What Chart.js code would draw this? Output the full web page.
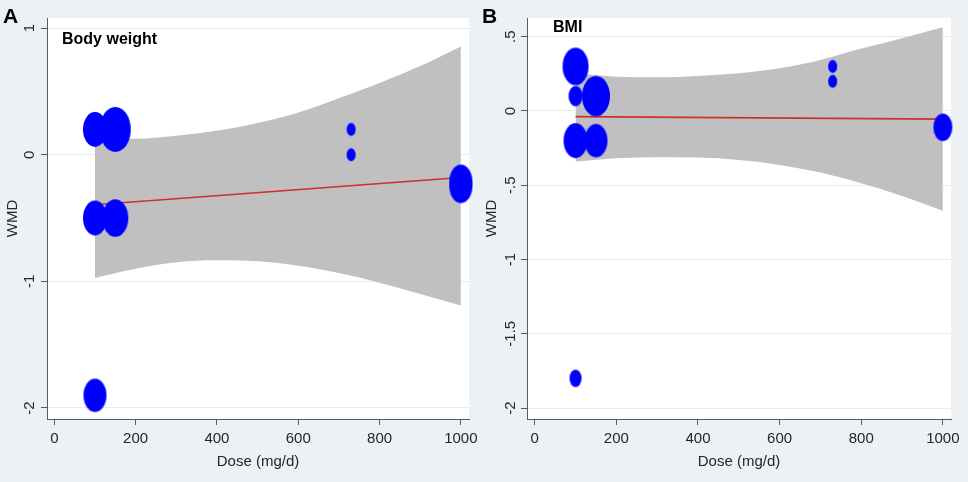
<!DOCTYPE html>
<html><head><meta charset="utf-8">
<script src="https://cdn.jsdelivr.net/npm/chart.js@4/dist/chart.umd.min.js"></script>
<style>
html,body{margin:0;padding:0;background:#edf1f4;}
#wrap{position:relative;width:968px;height:482px;overflow:hidden;background:#edf1f4;font-family:"Liberation Sans",Arial,sans-serif;}
canvas{position:absolute;top:0;}
.lbl{position:absolute;font-weight:bold;line-height:1;color:#000;white-space:nowrap;}
</style></head><body>
<div id="wrap">
<canvas id="cA" width="484" height="482" style="left:0"></canvas>
<canvas id="cB" width="484" height="482" style="left:484px"></canvas>
<div class="lbl" style="left:3px;top:5px;font-size:21px">A</div>
<div class="lbl" style="left:482px;top:5px;font-size:21px">B</div>
<div class="lbl" style="left:62px;top:31px;font-size:16px">Body weight</div>
<div class="lbl" style="left:553px;top:19px;font-size:16px">BMI</div>
</div>
<script>
// ---- shared ----
const doseTicks = [0, 200, 400, 600, 800, 1000];
const doseTickLabels = ['0', '200', '400', '600', '800', '1000'];
const bandDose = [100, 200, 300, 400, 500, 600, 700, 800, 900, 1000];
const fitDose = [100, 1000];

// ---- Panel A: Body weight ----
const bwDose   = [100, 150, 100, 150, 730, 730, 1000, 1000, 100];
const bwWMD    = [0.2, 0.2, -0.5, -0.5, 0.2, 0.0, -0.21, -0.25, -1.9];
const bwWeight = [2.4, 3.1, 2.4, 2.6, 0.9, 0.9, 2.3, 2.3, 2.3];
const bwFitWMD = [-0.395, -0.18];
const bwUpper  = [0.13, 0.126, 0.15, 0.19, 0.25, 0.334, 0.447, 0.566, 0.70, 0.855];
const bwLower  = [-0.973, -0.90, -0.85, -0.834, -0.842, -0.876, -0.934, -1.01, -1.10, -1.19];
const bwYTicks = [-2, -1, 0, 1];
const bwYTickLabels = ['-2', '-1', '0', '1'];

// ---- Panel B: BMI ----
const bmiDose   = [100, 100, 150, 100, 150, 730, 730, 1000, 100];
const bmiWMD    = [0.3, 0.1, 0.1, -0.2, -0.2, 0.3, 0.2, -0.11, -1.8];
const bmiWeight = [2.6, 1.4, 2.8, 2.4, 2.3, 0.9, 0.9, 1.9, 1.2];
const bmiFitWMD = [-0.038, -0.055];
const bmiUpper  = [0.254, 0.231, 0.227, 0.236, 0.254, 0.287, 0.343, 0.42, 0.49, 0.563];
const bmiLower  = [-0.341, -0.318, -0.312, -0.314, -0.33, -0.363, -0.415, -0.487, -0.572, -0.671];
const bmiYTicks = [-2, -1.5, -1, -0.5, 0, 0.5];
const bmiYTickLabels = ['-2', '-1.5', '-1', '-.5', '0', '.5'];

const FONT = {family: '"Liberation Sans", Arial, sans-serif', size: 15};
const TXT = '#262626';
const AXIS = '#5a5a5a';
const BG = '#edf1f4';

function ellipseImg(w) {
  const h = w * 1.45;
  const c = document.createElement('canvas');
  c.width = Math.ceil(w) + 2; c.height = Math.ceil(h) + 2;
  const g = c.getContext('2d');
  g.fillStyle = '#0000ff';
  g.beginPath();
  g.ellipse(c.width / 2, c.height / 2, w / 2, h / 2, 0, 0, Math.PI * 2);
  g.fill();
  return c;
}

const bgPlugin = {
  id: 'bg',
  beforeDraw(chart) {
    const {ctx, chartArea: a} = chart;
    ctx.save();
    ctx.fillStyle = BG;
    ctx.fillRect(0, 0, chart.width, chart.height);
    ctx.fillStyle = '#ffffff';
    ctx.fillRect(a.left, a.top, a.right - a.left, a.bottom - a.top);
    ctx.restore();
  }
};

function xy(xs, ys) { return xs.map((x, i) => ({x: x, y: ys[i]})); }

function panel(id, o) {
  return new Chart(document.getElementById(id), {
    type: 'scatter',
    data: {datasets: [
      {type: 'line', data: xy(bandDose, o.upper), borderColor: 'rgba(0,0,0,0)', borderWidth: 0,
       pointRadius: 0, fill: false, order: 3, cubicInterpolationMode: 'monotone'},
      {type: 'line', data: xy(bandDose, o.lower), borderColor: 'rgba(0,0,0,0)', borderWidth: 0,
       pointRadius: 0, fill: '-1', backgroundColor: '#c0c0c0', order: 2, cubicInterpolationMode: 'monotone'},
      {type: 'line', data: xy(fitDose, o.fit), borderColor: '#cf2f2f', borderWidth: 1.6,
       pointRadius: 0, fill: false, order: 1},
      {type: 'scatter', data: xy(o.dose, o.wmd), pointStyle: o.weight.map(w => ellipseImg(w * 10)),
       pointRadius: 10, order: 0, clip: false}
    ]},
    options: {
      responsive: false, animation: false, events: [],
      layout: {padding: {left: 0, right: o.padRight, top: 18, bottom: 0}},
      plugins: {legend: {display: false}, tooltip: {enabled: false}},
      scales: {
        x: {
          type: 'linear', min: o.xmin, max: o.xmax,
          afterBuildTicks: s => { s.ticks = doseTicks.map(v => ({value: v})); },
          afterFit: s => { s.height = 63; },
          grid: {drawOnChartArea: false, tickLength: 6, tickColor: AXIS},
          border: {color: AXIS, width: 1},
          ticks: {callback: v => doseTickLabels[doseTicks.indexOf(v)], font: FONT, color: TXT,
                  padding: 5, maxRotation: 0, minRotation: 0, autoSkip: false},
          title: {display: true, text: 'Dose (mg/d)', font: FONT, color: TXT, padding: {bottom: 11}}
        },
        y: {
          type: 'linear', min: o.ymin, max: o.ymax,
          afterBuildTicks: s => { s.ticks = o.yTicks.map(v => ({value: v})); },
          afterFit: s => { s.width = o.yAxisW; },
          grid: {color: '#e7ecf0', tickLength: 6, tickColor: AXIS},
          border: {color: AXIS, width: 1},
          ticks: {callback: v => o.yLabels[o.yTicks.indexOf(v)], font: FONT, color: TXT,
                  minRotation: 90, maxRotation: 90, crossAlign: 'center', padding: o.yPad, autoSkip: false},
          title: {display: true, text: 'WMD', font: FONT, color: TXT, padding: {top: o.titlePad}}
        }
      }
    },
    plugins: [bgPlugin]
  });
}

panel('cA', {dose: bwDose, wmd: bwWMD, weight: bwWeight, fit: bwFitWMD, upper: bwUpper, lower: bwLower,
  yTicks: bwYTicks, yLabels: bwYTickLabels, xmin: -18, xmax: 1020, ymin: -2.087, ymax: 1.08,
  padRight: 15, yAxisW: 47, yPad: 4.5, titlePad: 3.5});
panel('cB', {dose: bmiDose, wmd: bmiWMD, weight: bmiWeight, fit: bmiFitWMD, upper: bmiUpper, lower: bmiLower,
  yTicks: bmiYTicks, yLabels: bmiYTickLabels, xmin: -19, xmax: 1020, ymin: -2.074, ymax: 0.626,
  padRight: 17, yAxisW: 43, yPad: -3, titlePad: -1});
</script>
</body></html>
